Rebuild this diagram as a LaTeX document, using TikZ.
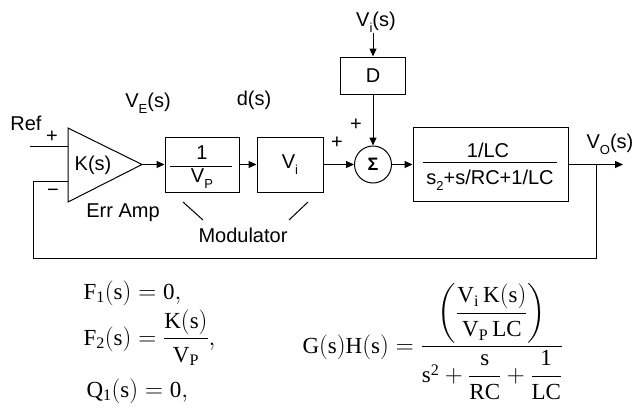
\documentclass[tikz,border=0pt]{standalone}
\usepackage{amsmath}
\usepackage{fontspec}
\setmainfont{Liberation Serif}
\newfontfamily\lsans{Liberation Sans}
\usetikzlibrary{arrows.meta}
\newcommand\sbs[1]{\raisebox{-0.55ex}{\fontsize{13}{13}\selectfont #1}}
\begin{document}
\begin{tikzpicture}[x=1pt,y=-1pt, line width=1pt,
  lbl/.style={font=\lsans\fontsize{20}{24}\selectfont, inner sep=0pt},
  blk/.style={draw, inner sep=0pt, anchor=center},
  sig/.style={-{Triangle[length=8pt,width=7pt]}},
  eq/.style={font=\fontsize{23}{28}\selectfont, inner sep=0pt, anchor=base west}]

\useasboundingbox (0,0) rectangle (634,410);

% error amplifier
\node[lbl] (ref) at (26,123) {Ref};
\node[lbl] (pin) at (52,137) {+};
\node[lbl] (min) at (53,193) {−};
\coordinate (refin) at (30,146);
\coordinate (ampA) at (68,128);
\coordinate (ampB) at (68,202);
\coordinate (amptip) at (142,164.5);
\coordinate (ampplus) at (68,146);
\coordinate (ampminus) at (68,181);
\draw (ampA) -- (amptip) -- (ampB) -- cycle;
\draw (refin) -- (ampplus);
\node[lbl] (K) at (93,165) {K(s)};
\node[lbl] (err) at (123,213) {Err Amp};

% modulator
\node[blk, minimum width=74pt, minimum height=55pt] (b1) at (202,164.5) {};
\draw (170,166) -- (232,166);
\node[lbl] (one) at (202,153) {1};
\node[lbl] (vp) at (202,179) {V\sbs{P}};
\node[blk, lbl, minimum width=66pt, minimum height=55pt] (b2) at (290,164.5) {V\sbs{i}};
\draw[sig] (amptip) -- (b1.west);
\draw[sig] (b1.east) -- (b2.west);
\node[lbl] (ve) at (148,103) {V\sbs{E}(s)};
\node[lbl] (ds) at (254,100) {d(s)};
\node[lbl] (mod) at (243,235) {Modulator};
\draw (183,202) -- (203,220);
\draw (308,202) -- (289,220);

% summing junction and disturbance
\node[draw, circle, minimum size=37pt, inner sep=0pt] (sum) at (373,164.5) {\lsans\bfseries\fontsize{18}{20}\selectfont Σ};
\node[lbl] (p1) at (356,125) {+};
\node[lbl] (p2) at (337,143) {+};
\node[lbl] (vis) at (376,22) {V\sbs{i}(s)};
\node[blk, lbl, minimum width=65pt, minimum height=37pt] (D) at (373,75.5) {D};
\draw[sig] (D.north |- vis.south) -- (D.north);
\draw[sig] (D.south) -- (sum.north);
\draw[sig] (b2.east) -- (sum.west);

% plant
\node[blk, minimum width=155pt, minimum height=74pt] (b3) at (490.5,164.5) {};
\draw (423,162) -- (557,162);
\node[lbl] (num3) at (488,150) {1/LC};
\node[lbl] (den3) at (490,180) {s\sbs{2}+s/RC+1/LC};
\draw[sig] (sum.east) -- (b3.west);
\coordinate (tap) at (596,164.5);
\coordinate (vout) at (623,164.5);
\draw[sig] (b3.east) -- (vout);
\node[lbl] (vo) at (610,144) {V\sbs{O}(s)};

% feedback
\coordinate (fbR) at (596,258);
\coordinate (fbL) at (33,258);
\coordinate (fbT) at (33,181);
\draw (tap) -- (fbR) -- (fbL) -- (fbT) -- (ampminus);

% equations
\node[eq] (f1) at (83,299) {$\mathrm{F_1(s) = 0,}$};
\node[eq] (f2) at (83,345) {$\mathrm{F_2(s) = \dfrac{K(s)}{V_P},}$};
\node[eq] (q1) at (86,397) {$\mathrm{Q_1(s) = 0,}$};
\node[eq] (gh) at (302,353) {$\mathrm{G(s)H(s) = \dfrac{\left(\dfrac{V_i\,K(s)}{V_P\,LC}\right)}{s^2+\dfrac{s}{RC}+\dfrac{1}{LC}}}$};
\end{tikzpicture}
\end{document}
